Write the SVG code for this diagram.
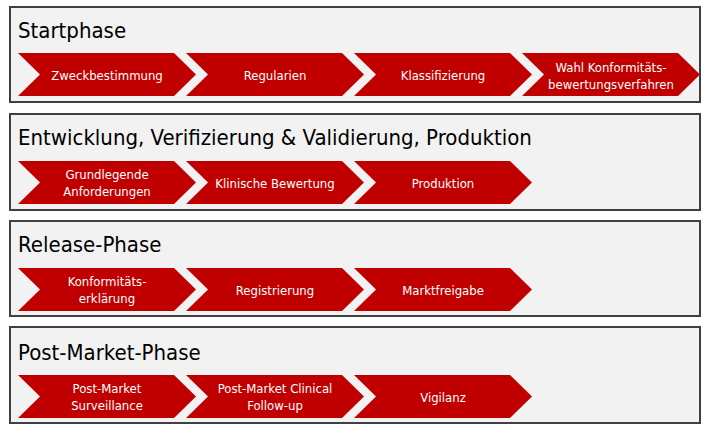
<svg xmlns="http://www.w3.org/2000/svg" width="709" height="430" viewBox="0 0 709 430">
<style>
.panel{fill:#f2f2f2;stroke:#404040;stroke-width:2}
.title{font-family:"DejaVu Sans Condensed","Liberation Sans",sans-serif;font-size:22px;fill:#000}
.chev{fill:#c00000}
.lbl{font-family:"DejaVu Sans Condensed","Liberation Sans",sans-serif;font-size:13px;fill:#fff;text-anchor:middle}
</style>
<defs>
<path id="c" class="chev" d="M0,0 H156 L178,21.5 L156,43 H0 L22,21.5 Z"/>
</defs>
<g id="p1">
<rect class="panel" x="10" y="7" width="690" height="95"/>
<text class="title" x="18" y="38">Startphase</text>
<use href="#c" x="18" y="53"/><use href="#c" x="186" y="53"/><use href="#c" x="354" y="53"/><use href="#c" x="522" y="53"/>
<text class="lbl" x="107" y="80">Zweckbestimmung</text>
<text class="lbl" x="275" y="80">Regularien</text>
<text class="lbl" x="443" y="80">Klassifizierung</text>
<text class="lbl" x="611" y="72">Wahl Konformitäts-</text>
<text class="lbl" x="611" y="89">bewertungsverfahren</text>
</g>
<g id="p2">
<rect class="panel" x="10" y="114" width="690" height="96"/>
<text class="title" x="18" y="145">Entwicklung, Verifizierung &amp; Validierung, Produktion</text>
<use href="#c" x="18" y="161"/><use href="#c" x="186" y="161"/><use href="#c" x="354" y="161"/>
<text class="lbl" x="107" y="179">Grundlegende</text>
<text class="lbl" x="107" y="196">Anforderungen</text>
<text class="lbl" x="275" y="188">Klinische Bewertung</text>
<text class="lbl" x="443" y="188">Produktion</text>
</g>
<g id="p3">
<rect class="panel" x="10" y="221" width="690" height="95"/>
<text class="title" x="18" y="252">Release-Phase</text>
<use href="#c" x="18" y="268"/><use href="#c" x="186" y="268"/><use href="#c" x="354" y="268"/>
<text class="lbl" x="107" y="286">Konformitäts-</text>
<text class="lbl" x="107" y="303">erklärung</text>
<text class="lbl" x="275" y="295">Registrierung</text>
<text class="lbl" x="443" y="295">Marktfreigabe</text>
</g>
<g id="p4">
<rect class="panel" x="10" y="327" width="690" height="96"/>
<text class="title" x="18" y="360">Post-Market-Phase</text>
<use href="#c" x="18" y="375"/><use href="#c" x="186" y="375"/><use href="#c" x="354" y="375"/>
<text class="lbl" x="107" y="393">Post-Market</text>
<text class="lbl" x="107" y="410">Surveillance</text>
<text class="lbl" x="275" y="393">Post-Market Clinical</text>
<text class="lbl" x="275" y="410">Follow-up</text>
<text class="lbl" x="443" y="402">Vigilanz</text>
</g>
<g id="connectors"/>
</svg>
